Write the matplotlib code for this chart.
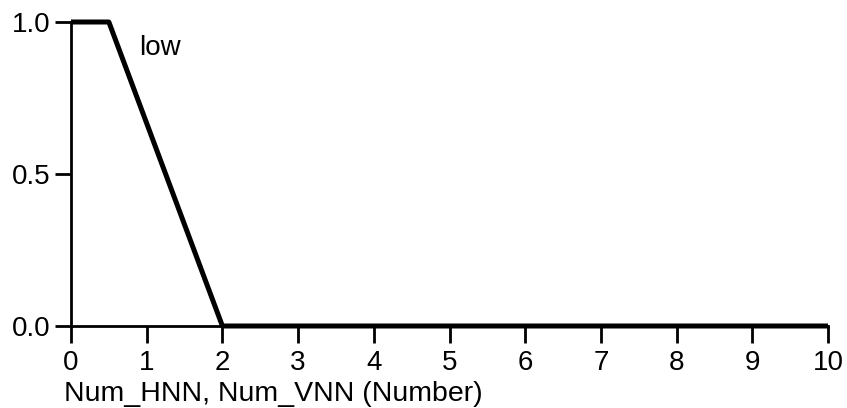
import matplotlib
matplotlib.use('Agg')
import matplotlib.pyplot as plt

plt.rcParams['font.family'] = ['Liberation Sans', 'DejaVu Sans']

# membership function "low"
x_pts = [0, 0.5, 2, 10]
y_pts = [1, 1, 0, 0]
xticks = list(range(0, 11))
yticks = [0.0, 0.5, 1.0]

fig = plt.figure(figsize=(8.47, 4.08), dpi=100)
ax = fig.add_axes([71/847, 1-326/408, (828-71)/847, (326-22)/408])

ax.plot(x_pts, y_pts, color='black', lw=3.6, clip_on=False, solid_capstyle='butt', zorder=3)
ax.text(0.9, 0.891, 'low', fontsize=20)

ax.set_xlim(0, 10)
ax.set_ylim(0, 1)
ax.set_xticks(xticks)
ax.set_yticks(yticks)
ax.set_yticklabels(['0.0', '0.5', '1.0'])
ax.tick_params(axis='both', labelsize=20, width=2, direction='out', color='black')
ax.tick_params(axis='x', length=12, pad=5)
ax.tick_params(axis='y', length=11.5, pad=3)
for s in ['top', 'right']:
    ax.spines[s].set_visible(False)
for s in ['left', 'bottom']:
    ax.spines[s].set_linewidth(2)

ax.set_xlabel('Num_HNN, Num_VNN (Number)', fontsize=20.5, ha='left', va='top')
ax.xaxis.set_label_coords(-7/757, -55/304)

fig.savefig('out.png', dpi=100)
